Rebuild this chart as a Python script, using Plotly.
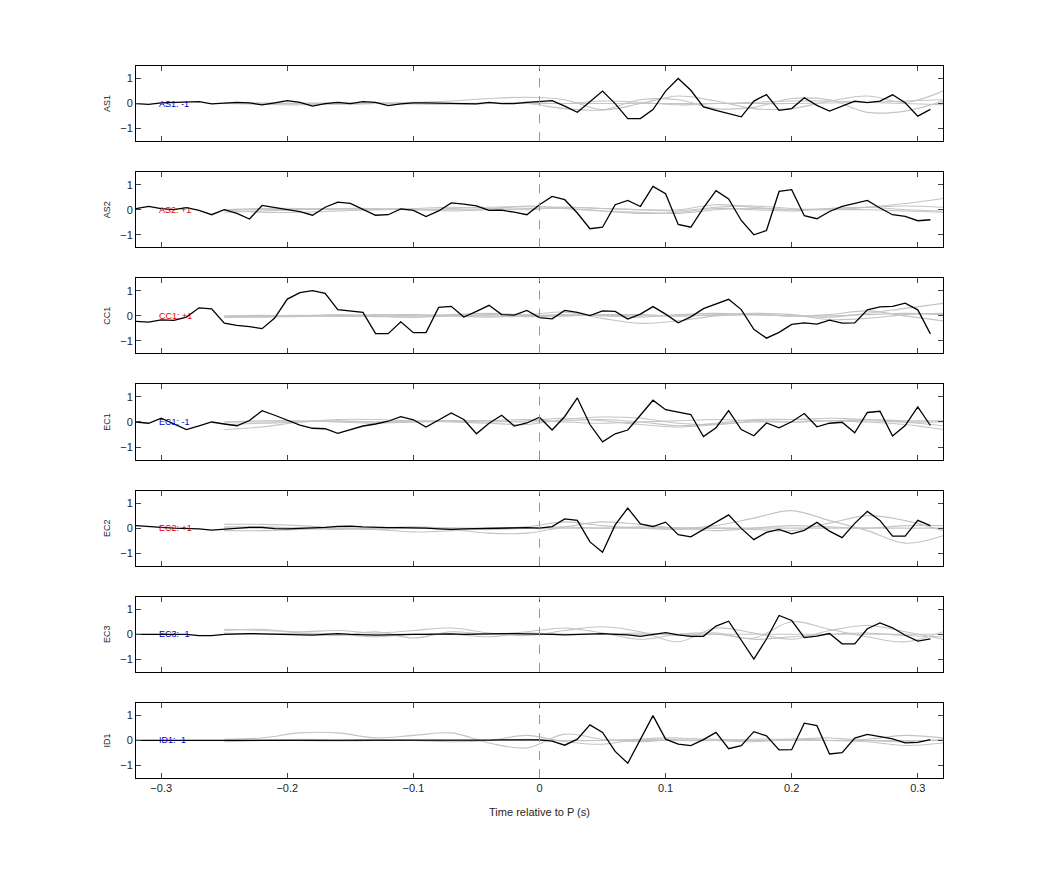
import numpy as np
import plotly.graph_objects as go
from plotly.subplots import make_subplots

stations = ["AS1", "AS2", "CC1", "EC1", "EC2", "EC3", "ID1"]
labels = ["AS1: -1", "AS2: +1", "CC1: +1", "EC1: -1", "EC2: +1", "EC3: -1", "ID1: -1"]
label_colors = ["#0000cc", "#dd0000", "#dd0000", "#0000cc", "#dd0000", "#0000cc", "#0000cc"]

t = [round(-0.32 + 0.01 * i, 2) for i in range(64)]

AS1 = [0, -0.03, 0.03, 0.05, 0.04, 0.08, -0.01, 0.02, 0.05, 0.03, -0.05, 0.03, 0.12, 0.05, -0.1, 0.0,
       0.05, 0.0, 0.08, 0.05, -0.08, -0.01, 0.03, 0.03, 0.03, 0.02, 0.0, -0.01, 0.05, 0.0, 0.0, 0.05,
       0.1, 0.12, -0.1, -0.35, 0.07, 0.5, 0.0, -0.6, -0.6, -0.24, 0.5, 1.0, 0.53, -0.13, -0.27, -0.4,
       -0.53, 0.1, 0.36, -0.27, -0.2, 0.23, -0.07, -0.3, -0.1, 0.1, 0.04, 0.1, 0.35, 0.03, -0.5, -0.23]
AS2 = [0.04, 0.13, 0.04, 0.0, 0.08, -0.03, -0.2, 0.0, -0.15, -0.37, 0.17, 0.07, 0.0, -0.08, -0.22, 0.1,
       0.3, 0.25, 0.0, -0.22, -0.2, 0.03, -0.03, -0.27, -0.05, 0.27, 0.22, 0.15, -0.03, -0.02, -0.1, -0.2,
       0.2, 0.53, 0.4, -0.13, -0.76, -0.7, 0.2, 0.37, 0.13, 0.93, 0.64, -0.59, -0.7, 0.07, 0.76, 0.43,
       -0.43, -1.0, -0.83, 0.73, 0.8, -0.24, -0.36, -0.07, 0.13, 0.24, 0.37, 0.07, -0.2, -0.27, -0.44, -0.4]
CC1 = [-0.22, -0.25, -0.16, -0.18, -0.05, 0.32, 0.28, -0.29, -0.38, -0.43, -0.51, -0.09, 0.67, 0.93, 1.01, 0.9,
       0.25, 0.2, 0.14, -0.71, -0.71, -0.24, -0.67, -0.67, 0.34, 0.38, -0.05, 0.18, 0.42, 0.05, 0.03, 0.22,
       -0.07, -0.12, 0.22, 0.14, 0.01, 0.2, 0.18, -0.13, 0.07, 0.37, 0.07, -0.28, -0.04, 0.29, 0.49, 0.66,
       0.25, -0.54, -0.89, -0.66, -0.34, -0.28, -0.33, -0.17, -0.29, -0.28, 0.24, 0.36, 0.38, 0.51, 0.24, -0.72]
EC1 = [0.0, -0.05, 0.15, -0.08, -0.3, -0.15, 0.0, -0.08, -0.15, 0.06, 0.45, 0.27, 0.08, -0.12, -0.25, -0.27,
       -0.45, -0.31, -0.16, -0.08, 0.03, 0.21, 0.09, -0.2, 0.09, 0.36, 0.1, -0.47, -0.05, 0.27, -0.16, -0.04,
       0.19, -0.32, 0.22, 0.96, -0.1, -0.79, -0.47, -0.32, 0.27, 0.87, 0.49, 0.39, 0.3, -0.58, -0.23, 0.45,
       -0.3, -0.55, -0.04, -0.23, 0.01, 0.34, -0.19, -0.05, -0.01, -0.43, 0.38, 0.43, -0.56, -0.14, 0.6, -0.14]
EC2 = [0.1, 0.05, 0.03, 0.0, 0.0, -0.03, -0.08, -0.05, 0.0, 0.03, 0.03, -0.02, -0.03, -0.02, 0.0, 0.03,
       0.07, 0.08, 0.05, 0.02, 0.02, 0.02, 0.02, 0.0, -0.03, -0.05, -0.03, -0.02, 0.0, 0.0, 0.0, 0.02,
       0.0, 0.06, 0.37, 0.31, -0.55, -0.96, 0.13, 0.8, 0.17, 0.06, 0.24, -0.26, -0.35, -0.06, 0.23, 0.53,
       -0.01, -0.46, -0.17, -0.05, -0.23, -0.09, 0.23, -0.12, -0.38, 0.19, 0.67, 0.31, -0.32, -0.32, 0.31, 0.1]
EC3 = [0.0, 0.0, 0.0, 0.02, 0.0, -0.05, -0.05, 0.0, 0.03, 0.03, 0.02, 0.0, -0.02, -0.02, -0.03, 0.0,
       0.03, 0.0, -0.03, -0.03, -0.02, 0.0, 0.0, 0.0, 0.02, 0.02, 0.0, 0.02, 0.03, 0.03, 0.03, 0.03,
       0.03, 0.0, -0.02, 0.0, 0.0, 0.03, 0.0, -0.02, -0.08, 0.0, 0.07, -0.02, -0.08, -0.08, 0.33, 0.52,
       -0.24, -0.99, -0.19, 0.75, 0.55, -0.13, -0.07, 0.03, -0.38, -0.38, 0.22, 0.45, 0.26, -0.04, -0.27, -0.18]
ID1 = [0.0, 0.0, 0.0, -0.01, -0.02, -0.02, -0.01, 0.0, 0.01, 0.01, 0.0, 0.0, 0.0, 0.01, 0.01, 0.0,
       0.0, 0.0, 0.0, 0.0, 0.01, 0.01, 0.0, 0.0, 0.0, 0.0, 0.0, 0.01, 0.01, 0.02, 0.02, 0.02,
       0.02, -0.03, -0.19, 0.05, 0.62, 0.32, -0.44, -0.91, 0.05, 0.99, 0.05, -0.15, -0.21, 0.03, 0.32, -0.33,
       -0.21, 0.35, 0.18, -0.38, -0.37, 0.69, 0.59, -0.54, -0.49, 0.09, 0.24, 0.15, 0.06, -0.1, -0.08, 0.03]
black = [AS1, AS2, CC1, EC1, EC2, EC3, ID1]

# gray (synthetic) traces, sampled every 0.03 s from -0.25 to 0.32
tg = [round(-0.25 + 0.03 * i, 2) for i in range(20)]
gray = {
    "AS1": [[0, 0.02, 0.0, -0.03, 0.0, 0.05, 0.1, 0.2, 0.25, 0.15, -0.25, 0.0, 0.3, 0.1, -0.2, -0.2, 0.1, 0.3, 0.05, 0.5],
            [0, -0.03, -0.05, 0.0, 0.03, 0.0, -0.03, 0.0, 0.05, 0.0, 0.1, 0.05, -0.05, 0.0, 0.05, 0.1, 0.1, 0.05, 0.0, -0.05],
            [0, 0.0, 0.02, 0.02, 0.0, -0.02, 0.0, 0.02, 0.0, -0.2, -0.25, 0.15, 0.15, -0.2, -0.15, 0.2, 0.15, -0.35, -0.3, 0.1],
            [0, 0.01, 0.0, -0.01, 0.0, 0.01, 0.0, 0.0, 0.0, 0.0, 0.0, 0.0, 0.0, 0.0, 0.0, 0.0, 0.02, 0.05, 0.1, 0.15]],
    "AS2": [[-0.1, -0.05, 0.0, 0.05, 0.03, 0.0, 0.05, 0.1, 0.12, 0.1, 0.05, 0.0, -0.05, 0.1, 0.15, 0.05, 0.0, 0.1, 0.25, 0.45],
            [0, -0.1, -0.1, -0.05, 0.0, 0.0, -0.05, 0.0, 0.05, 0.05, -0.05, -0.15, -0.1, 0.05, 0.0, -0.05, 0.05, 0.1, 0.15, 0.1],
            [0, 0.05, 0.05, 0.0, 0.0, 0.05, 0.1, 0.05, 0.0, 0.1, 0.05, 0.0, 0.0, 0.2, 0.1, 0.0, 0.05, 0.1, 0.0, -0.05],
            [0, 0.0, 0.02, 0.05, 0.05, 0.02, 0.0, 0.02, 0.15, 0.05, -0.05, -0.1, -0.15, 0.0, 0.05, 0.0, 0.0, 0.0, -0.05, -0.1]],
    "CC1": [[-0.05, -0.03, 0.0, 0.05, 0.0, -0.05, 0.05, 0.1, 0.05, 0.15, -0.1, -0.3, -0.2, 0.0, 0.05, 0.0, -0.05, 0.1, 0.3, 0.5],
            [-0.03, 0.0, 0.02, 0.0, -0.03, -0.05, 0.0, 0.05, 0.03, 0.0, 0.05, 0.05, 0.0, 0.05, 0.1, 0.05, -0.15, -0.1, 0.05, 0.1],
            [-0.05, -0.05, -0.02, 0.0, 0.05, 0.05, 0.0, -0.05, 0.0, 0.05, 0.0, -0.05, 0.05, 0.1, 0.05, 0.0, 0.05, 0.2, 0.0, -0.2],
            [0, 0.02, 0.0, -0.02, 0.0, 0.02, 0.03, 0.0, -0.03, 0.0, 0.03, 0.0, 0.0, 0.03, 0.05, 0.0, 0.0, 0.05, 0.1, 0.05]],
    "EC1": [[-0.3, -0.2, 0.0, 0.05, 0.0, 0.03, 0.0, -0.05, -0.1, 0.1, 0.2, 0.15, -0.05, -0.1, 0.05, 0.1, 0.05, 0.0, -0.1, -0.3],
            [-0.1, -0.05, 0.0, 0.1, 0.1, 0.05, 0.05, 0.05, 0.0, 0.05, 0.1, 0.0, -0.15, -0.05, 0.1, 0.1, 0.15, 0.1, 0.0, -0.15],
            [0, 0.05, 0.05, 0.0, -0.05, 0.0, 0.05, 0.0, 0.05, 0.15, 0.05, -0.1, -0.2, -0.1, 0.0, 0.0, 0.05, 0.05, 0.0, 0.0],
            [0, 0.0, 0.02, 0.03, 0.0, 0.0, 0.02, 0.05, 0.1, 0.0, -0.05, 0.0, 0.05, 0.1, 0.05, 0.0, 0.05, 0.1, 0.05, 0.05]],
    "EC2": [[0.15, 0.15, 0.1, 0.0, -0.05, 0.0, -0.05, -0.2, -0.2, 0.05, 0.25, 0.15, 0.0, 0.1, 0.4, 0.7, 0.3, -0.1, -0.6, -0.3],
            [-0.1, -0.1, -0.05, 0.0, -0.05, -0.15, -0.1, 0.0, 0.05, 0.25, 0.1, 0.0, -0.05, 0.0, -0.05, -0.1, 0.2, 0.5, 0.3, -0.1],
            [0.05, 0.05, 0.0, -0.05, 0.0, 0.05, 0.0, -0.05, 0.0, 0.05, 0.0, 0.05, 0.0, -0.1, 0.0, 0.1, 0.05, 0.0, 0.1, 0.1],
            [0, 0.0, 0.0, 0.0, 0.0, 0.0, 0.0, 0.0, 0.0, 0.0, 0.0, 0.0, 0.0, 0.0, 0.0, 0.0, 0.0, 0.0, 0.0, 0.0]],
    "EC3": [[0.2, 0.15, 0.1, 0.15, 0.05, 0.15, 0.25, 0.05, -0.05, 0.15, 0.3, 0.1, -0.3, 0.25, 0.05, -0.2, 0.15, 0.35, 0.1, -0.2],
            [0.15, 0.2, 0.05, -0.05, 0.1, -0.15, 0.1, 0.0, 0.1, 0.25, 0.05, -0.2, 0.0, 0.05, -0.15, 0.5, 0.2, -0.1, -0.3, 0.1],
            [0.05, 0.0, 0.05, 0.0, -0.1, 0.0, 0.0, -0.1, 0.05, 0.0, 0.0, 0.05, -0.05, 0.0, -0.2, -0.1, 0.0, 0.05, -0.05, -0.1],
            [0, 0.0, 0.0, 0.0, 0.0, 0.0, 0.0, 0.0, 0.0, 0.0, 0.0, 0.0, 0.0, 0.0, 0.0, 0.0, 0.0, 0.0, 0.0, 0.0]],
    "ID1": [[0.05, 0.1, 0.3, 0.3, 0.1, 0.2, 0.3, -0.1, -0.3, 0.25, 0.05, -0.05, 0.05, 0.05, 0.0, 0.0, 0.0, 0.05, 0.2, 0.1],
            [-0.05, 0.0, 0.05, 0.0, 0.05, 0.0, -0.05, 0.0, 0.2, -0.05, -0.15, 0.05, 0.1, 0.0, -0.05, 0.05, 0.0, -0.05, -0.2, -0.1],
            [0, 0.02, 0.0, -0.02, 0.0, 0.02, 0.0, 0.0, 0.05, 0.0, 0.0, 0.05, 0.0, 0.0, 0.05, 0.05, 0.1, 0.0, -0.05, 0.05],
            [0, 0.0, 0.0, 0.0, 0.0, 0.0, 0.0, 0.0, 0.0, 0.0, 0.0, 0.0, 0.0, 0.0, 0.0, 0.0, 0.0, 0.0, 0.0, 0.0]],
}

n = len(stations)
fig = make_subplots(rows=n, cols=1, shared_xaxes=True, vertical_spacing=31 / 712)

for i, st in enumerate(stations):
    r = i + 1
    for g in gray[st]:
        fig.add_trace(go.Scatter(x=tg, y=g, mode="lines", line=dict(color="#c4c4c4", width=1.1, shape="spline"),
                                 showlegend=False, hoverinfo="skip"), row=r, col=1)
    fig.add_trace(go.Scatter(x=t, y=black[i], mode="lines", line=dict(color="black", width=1.3),
                             showlegend=False), row=r, col=1)
    fig.add_vline(x=0, line=dict(color="#f07070", width=1, dash="dash"), row=r, col=1)
    fig.add_annotation(x=-0.303, y=0, text=labels[i], showarrow=False, xanchor="left", yanchor="middle",
                       font=dict(color=label_colors[i], size=9), row=r, col=1)
    fig.update_yaxes(range=[-1.5, 1.5], tickvals=[-1, 0, 1], ticks="inside", ticklen=5, mirror="ticks",
                     showline=True, linecolor="black", linewidth=1, showgrid=False, zeroline=False,
                     automargin=False,
                     title=dict(text=st, font=dict(size=9), standoff=8), tickfont=dict(size=11), row=r, col=1)
    fig.update_xaxes(range=[-0.32, 0.32], tickvals=[-0.3, -0.2, -0.1, 0, 0.1, 0.2, 0.3], ticks="inside",
                     ticklen=5, mirror="ticks", showline=True, linecolor="black", linewidth=1, showgrid=False,
                     zeroline=False, automargin=False, tickfont=dict(size=11), row=r, col=1)

fig.update_xaxes(title=dict(text="Time relative to P (s)", font=dict(size=11)), row=n, col=1)
fig.update_layout(width=1042, height=875, margin=dict(l=128, r=107, t=58, b=105, autoexpand=False),
                  plot_bgcolor="white", paper_bgcolor="white",
                  font=dict(family="Liberation Sans, Arial, sans-serif", color="#262626"))
fig.write_html("out.html")
